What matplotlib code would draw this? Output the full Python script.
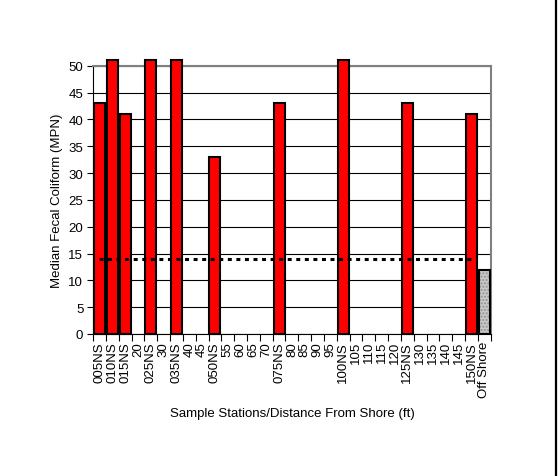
import matplotlib
matplotlib.use("Agg")
import matplotlib.pyplot as plt
import numpy as np

plt.rcParams['font.family'] = ['Liberation Sans', 'DejaVu Sans']

stations = ['005NS', '010NS', '015NS', '20', '025NS', '30', '035NS', '40', '45',
            '050NS', '55', '60', '65', '70', '075NS', '80', '85', '90', '95',
            '100NS', '105', '110', '115', '120', '125NS', '130', '135', '140',
            '145', '150NS', 'Off Shore']
# off-scale bars (above 50) drawn just past the top of the axis
median_fc = [43, 51, 41, 0, 51, 0, 51, 0, 0,
             33, 0, 0, 0, 0, 43, 0, 0, 0, 0,
             51, 0, 0, 0, 0, 43, 0, 0, 0,
             0, 41]
offshore = 12
standard = 14

fs = 9.5
fig = plt.figure(figsize=(5.59, 4.77), dpi=100)
ax = fig.add_axes([0.1664, 0.2977, 0.7116, 0.5625])

x = np.arange(len(stations))
for i, v in enumerate(median_fc):
    if v > 0:
        ax.bar(x[i], v, width=0.85, color='#ff0000', edgecolor='black',
               linewidth=1.5, zorder=3, clip_on=False)

n = len(stations) - 1
ax.bar(x[n], offshore, width=0.85, color='#c8c8c8', edgecolor='#909090',
       hatch='.....', linewidth=0, zorder=3)
ax.bar(x[n], offshore, width=0.85, fill=False, edgecolor='black',
       linewidth=1.5, zorder=4)

ax.plot([x[0], x[n - 1] + 0.45], [standard, standard], color='black', lw=2.2,
        ls=(0, (1.3, 1.5)), zorder=5)

ax.set_xlim(-0.5, len(stations) - 0.5)
ax.set_ylim(0, 50)
ax.set_yticks(np.arange(0, 51, 5))
ax.yaxis.grid(True, color='black', lw=0.8, zorder=0)
ax.set_axisbelow(True)

ax.set_xticks(x)
ax.set_xticklabels(stations, rotation=90, fontsize=fs)
ax.set_xticks(np.arange(-0.5, len(stations)), minor=True)
ax.tick_params(axis='x', which='major', length=0, pad=5)
ax.tick_params(axis='x', which='minor', length=5, width=0.8, direction='out')
ax.tick_params(axis='y', length=4, width=0.8, direction='out', labelsize=fs, pad=3)

for s in ['top', 'right']:
    ax.spines[s].set_color('#808080')
    ax.spines[s].set_linewidth(1.5)
ax.spines['left'].set_linewidth(0.8)
ax.spines['bottom'].set_linewidth(0.8)

ax.set_ylabel('Median Fecal Coliform (MPN)', fontsize=fs, labelpad=4)
ax.set_xlabel('Sample Stations/Distance From Shore (ft)', fontsize=fs, labelpad=7)

fig.add_artist(plt.Line2D([0.9955, 0.9955], [0, 1], color='black', lw=1.6,
                          transform=fig.transFigure))

fig.savefig('out.png', dpi=100)
